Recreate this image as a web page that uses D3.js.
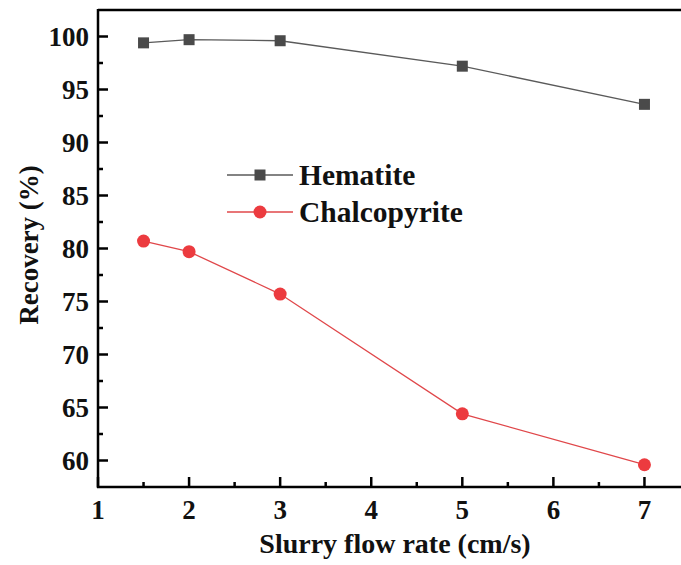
<!DOCTYPE html>
<html lang="en">
<head>
    <meta charset="UTF-8">
    <title>Recovery vs Slurry flow rate</title>
    <script src="https://d3js.org/d3.v7.min.js"></script>
    <style>
        body {
            margin: 0;
            background: #fff;
        }
        svg {
            display: block;
        }
        .tick-label, .axis-title, .legend-text {
            font-family: 'Liberation Serif', 'Times New Roman', serif;
            font-weight: bold;
            fill: #111;
        }
    </style>
</head>
<body>
    <svg width="681" height="565"></svg>

    <script>
        const flowRate = [1.5, 2, 3, 5, 7];
        const hematite = [99.4, 99.7, 99.6, 97.2, 93.6];
        const chalcopyrite = [80.7, 79.7, 75.7, 64.4, 59.6];
        const xTicks = [1, 2, 3, 4, 5, 6, 7];
        const yTicks = [60, 65, 70, 75, 80, 85, 90, 95, 100];

        const svg = d3.select('svg');
        const plot = { left: 98, top: 10, bottom: 487, right: 690 };

        const x = d3.scaleLinear().domain([1, 7.5]).range([plot.left, plot.right]);
        const y = d3.scaleLinear().domain([57.5, 102.5]).range([plot.bottom, plot.top]);

        const series = [
            { name: 'Hematite', values: hematite, line: '#5a5a5a', fill: '#4a4a4a', shape: 'square' },
            { name: 'Chalcopyrite', values: chalcopyrite, line: '#e0474a', fill: '#ec3b3f', shape: 'circle' }
        ];

        // frame top
        svg.append('line')
            .attr('x1', plot.left).attr('x2', plot.right)
            .attr('y1', plot.top).attr('y2', plot.top)
            .attr('stroke', '#000').attr('stroke-width', 2.5);

        // x axis
        const xMinor = d3.range(1.5, 7.5, 1);
        const xg = svg.append('g');
        xg.selectAll('.major').data(xTicks).enter().append('line')
            .attr('x1', d => x(d)).attr('x2', d => x(d))
            .attr('y1', plot.bottom).attr('y2', plot.bottom - 10)
            .attr('stroke', '#000').attr('stroke-width', 2.5);
        xg.selectAll('.minor').data(xMinor).enter().append('line')
            .attr('x1', d => x(d)).attr('x2', d => x(d))
            .attr('y1', plot.bottom).attr('y2', plot.bottom - 5)
            .attr('stroke', '#000').attr('stroke-width', 2.5);
        xg.selectAll('text').data(xTicks).enter().append('text')
            .attr('class', 'tick-label')
            .attr('x', d => x(d)).attr('y', plot.bottom + 32)
            .attr('text-anchor', 'middle')
            .style('font-size', '27px')
            .text(d => d);
        xg.append('line')
            .attr('x1', plot.left - 1).attr('x2', plot.right)
            .attr('y1', plot.bottom).attr('y2', plot.bottom)
            .attr('stroke', '#000').attr('stroke-width', 2.5);

        // y axis
        const yMinor = d3.range(62.5, 102.5, 5);
        const yg = svg.append('g');
        yg.selectAll('.major').data(yTicks).enter().append('line')
            .attr('x1', plot.left).attr('x2', plot.left + 10)
            .attr('y1', d => y(d)).attr('y2', d => y(d))
            .attr('stroke', '#000').attr('stroke-width', 2.5);
        yg.selectAll('.minor').data(yMinor).enter().append('line')
            .attr('x1', plot.left).attr('x2', plot.left + 5)
            .attr('y1', d => y(d)).attr('y2', d => y(d))
            .attr('stroke', '#000').attr('stroke-width', 2.5);
        yg.selectAll('text').data(yTicks).enter().append('text')
            .attr('class', 'tick-label')
            .attr('x', plot.left - 9).attr('y', d => y(d) + 9)
            .attr('text-anchor', 'end')
            .style('font-size', '27px')
            .text(d => d);
        yg.append('line')
            .attr('x1', plot.left).attr('x2', plot.left)
            .attr('y1', plot.top - 1).attr('y2', plot.bottom + 1)
            .attr('stroke', '#000').attr('stroke-width', 2.5);

        // axis titles
        svg.append('text')
            .attr('class', 'axis-title')
            .attr('x', 395).attr('y', 553)
            .attr('text-anchor', 'middle')
            .style('font-size', '28px')
            .text('Slurry flow rate (cm/s)');
        svg.append('text')
            .attr('class', 'axis-title')
            .attr('transform', 'translate(38,245) rotate(-90)')
            .attr('text-anchor', 'middle')
            .style('font-size', '27px')
            .text('Recovery (%)');

        // lines and markers
        const line = d3.line()
            .x((d, i) => x(flowRate[i]))
            .y(d => y(d));

        function marker(g, s, cx, cy) {
            if (s.shape === 'square') {
                g.append('rect')
                    .attr('x', cx - 5.5).attr('y', cy - 5.5)
                    .attr('width', 11).attr('height', 11)
                    .attr('fill', s.fill);
            } else {
                g.append('circle')
                    .attr('cx', cx).attr('cy', cy).attr('r', 6.5)
                    .attr('fill', s.fill);
            }
        }

        series.forEach(s => {
            svg.append('path')
                .datum(s.values)
                .attr('d', line)
                .attr('fill', 'none')
                .attr('stroke', s.line)
                .attr('stroke-width', 1.3);
            const g = svg.append('g');
            s.values.forEach((v, i) => marker(g, s, x(flowRate[i]), y(v)));
        });

        // legend
        series.forEach((s, i) => {
            const ly = 175 + i * 37;
            svg.append('line')
                .attr('x1', 227).attr('x2', 293)
                .attr('y1', ly).attr('y2', ly)
                .attr('stroke', s.line).attr('stroke-width', 1.3);
            marker(svg, s, 260, ly);
            svg.append('text')
                .attr('class', 'legend-text')
                .attr('x', 299).attr('y', ly + 10)
                .style('font-size', '29.5px')
                .text(s.name);
        });
    </script>
</body>
</html>
